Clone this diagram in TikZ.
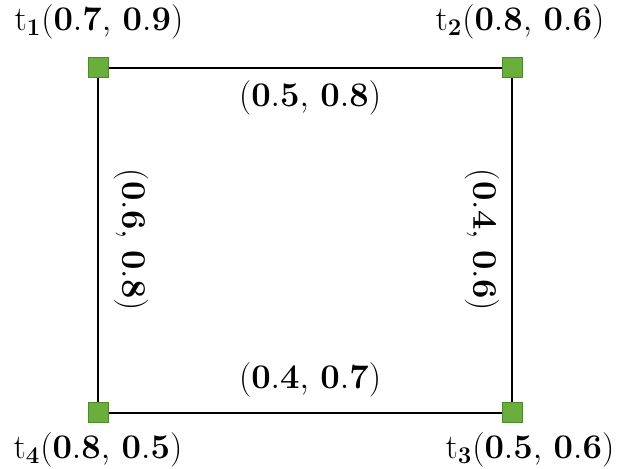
\documentclass[tikz,border=0pt]{standalone}
\usetikzlibrary{positioning}
\definecolor{term_fill}{HTML}{6AAF3D}
\definecolor{term_draw}{HTML}{4E8A2A}

\begin{document}
\begin{tikzpicture}[
    x=0.6pt, y=0.6pt,
    font=\fontsize{20}{23}\selectfont,
    term/.style={
        draw=term_draw,
        fill=term_fill,
        line width=0.6pt,
        minimum size=12pt,
        inner sep=0pt
    },
    link/.style={draw=black, line width=0.9pt},
    termlabel/.style={inner sep=1pt},
    pairlabel/.style={inner sep=1pt}
]
\useasboundingbox (0,0) rectangle (619,469);

\node[term] (t1) at (98,401) {};
\node[term] (t2) at (512,401) {};
\node[term] (t3) at (512,56) {};
\node[term] (t4) at (98,56) {};

\draw[link] (t1) -- (t2);
\draw[link] (t2) -- (t3);
\draw[link] (t3) -- (t4);
\draw[link] (t4) -- (t1);

\node[termlabel] (l1) at (99,447) {$\mathrm{t}_{\mathbf{1}}\mathbf{(0.7,\,0.9)}$};
\node[termlabel] (l2) at (520,447) {$\mathrm{t}_{\mathbf{2}}\mathbf{(0.8,\,0.6)}$};
\node[termlabel] (l3) at (530,19) {$\mathrm{t}_{\mathbf{3}}\mathbf{(0.5,\,0.6)}$};
\node[termlabel] (l4) at (98,19) {$\mathrm{t}_{\mathbf{4}}\mathbf{(0.8,\,0.5)}$};

\node[pairlabel] (e12) at (310,371) {$\mathbf{(0.5,\,0.8)}$};
\node[pairlabel] (e34) at (310,89) {$\mathbf{(0.4,\,0.7)}$};
\node[pairlabel, rotate=-90] (e14) at (131,229) {$\mathbf{(0.6,\,0.8)}$};
\node[pairlabel, rotate=-90] (e23) at (482,229) {$\mathbf{(0.4,\,0.6)}$};

\end{tikzpicture}
\end{document}
